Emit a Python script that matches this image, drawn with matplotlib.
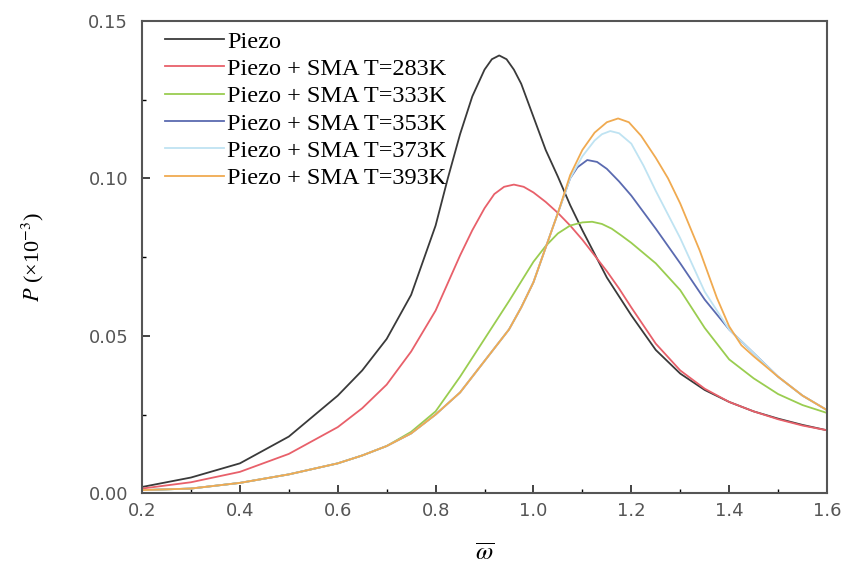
import numpy as np
import matplotlib.pyplot as plt

plt.rcParams['mathtext.fontset'] = 'stix'

# values, one omega list per curve
w_piezo = [0.2, 0.3, 0.4, 0.5, 0.6, 0.65, 0.7, 0.75, 0.8, 0.825, 0.85, 0.875, 0.9,
           0.915, 0.93, 0.945, 0.96, 0.975, 1.0, 1.025, 1.05, 1.075, 1.1, 1.125,
           1.15, 1.2, 1.25, 1.3, 1.35, 1.4, 1.45, 1.5, 1.55, 1.6]
p_piezo = [0.002, 0.005, 0.0095, 0.018, 0.031, 0.039, 0.049, 0.063, 0.085, 0.100,
           0.114, 0.126, 0.1345, 0.1378, 0.139, 0.1378, 0.1345, 0.130, 0.1195,
           0.109, 0.1005, 0.0915, 0.0835, 0.076, 0.0685, 0.0565, 0.0455, 0.038,
           0.0328, 0.029, 0.026, 0.0237, 0.0217, 0.020]

w_283 = [0.2, 0.3, 0.4, 0.5, 0.6, 0.65, 0.7, 0.75, 0.8, 0.85, 0.875, 0.9, 0.92,
         0.94, 0.96, 0.98, 1.0, 1.025, 1.05, 1.075, 1.1, 1.125, 1.15, 1.175, 1.2,
         1.25, 1.3, 1.35, 1.4, 1.45, 1.5, 1.55, 1.6]
p_283 = [0.0015, 0.0035, 0.0068, 0.0125, 0.021, 0.027, 0.0345, 0.045, 0.058,
         0.0755, 0.0835, 0.0905, 0.0950, 0.0973, 0.098, 0.0973, 0.0955, 0.0925,
         0.089, 0.085, 0.0805, 0.0755, 0.0705, 0.065, 0.059, 0.0475, 0.039,
         0.0332, 0.029, 0.026, 0.0235, 0.0215, 0.020]

w_333 = [0.2, 0.3, 0.4, 0.5, 0.6, 0.65, 0.7, 0.75, 0.8, 0.85, 0.9, 0.95, 1.0,
         1.025, 1.05, 1.075, 1.1, 1.12, 1.14, 1.16, 1.18, 1.2, 1.25, 1.3, 1.35,
         1.4, 1.45, 1.5, 1.55, 1.6]
p_333 = [0.001, 0.0015, 0.0033, 0.006, 0.0095, 0.012, 0.015, 0.0195, 0.026, 0.037,
         0.049, 0.061, 0.0735, 0.0785, 0.0825, 0.085, 0.086, 0.0862, 0.0855, 0.084,
         0.0818, 0.0795, 0.073, 0.0645, 0.0525, 0.0425, 0.0365, 0.0315, 0.028,
         0.0255]

w_353 = [0.2, 0.3, 0.4, 0.5, 0.6, 0.65, 0.7, 0.75, 0.8, 0.85, 0.9, 0.95, 0.975,
         1.0, 1.025, 1.05, 1.075, 1.09, 1.11, 1.13, 1.15, 1.175, 1.2, 1.25, 1.3,
         1.35, 1.4, 1.45, 1.5, 1.55, 1.6]
p_353 = [0.001, 0.0015, 0.0033, 0.006, 0.0095, 0.012, 0.015, 0.019, 0.025, 0.032,
         0.042, 0.052, 0.059, 0.067, 0.078, 0.089, 0.100, 0.1035, 0.1058, 0.1052,
         0.103, 0.099, 0.0945, 0.084, 0.073, 0.0615, 0.052, 0.0445, 0.037, 0.031,
         0.0264]

w_373 = [0.2, 0.3, 0.4, 0.5, 0.6, 0.65, 0.7, 0.75, 0.8, 0.85, 0.9, 0.95, 0.975,
         1.0, 1.025, 1.05, 1.075, 1.1, 1.125, 1.14, 1.157, 1.175, 1.2, 1.225,
         1.25, 1.3, 1.35, 1.4, 1.45, 1.5, 1.55, 1.6]
p_373 = [0.001, 0.0015, 0.0033, 0.006, 0.0095, 0.012, 0.015, 0.019, 0.025, 0.032,
         0.042, 0.052, 0.059, 0.067, 0.078, 0.089, 0.100, 0.107, 0.112, 0.114,
         0.115, 0.1143, 0.111, 0.104, 0.096, 0.081, 0.064, 0.052, 0.0445, 0.037,
         0.031, 0.0264]

w_393 = [0.2, 0.3, 0.4, 0.5, 0.6, 0.65, 0.7, 0.75, 0.8, 0.85, 0.9, 0.95, 0.975,
         1.0, 1.025, 1.05, 1.075, 1.1, 1.125, 1.15, 1.173, 1.195, 1.22, 1.25,
         1.275, 1.3, 1.34, 1.375, 1.4, 1.425, 1.45, 1.5, 1.55, 1.6]
p_393 = [0.001, 0.0015, 0.0033, 0.006, 0.0095, 0.012, 0.015, 0.019, 0.025, 0.032,
         0.042, 0.052, 0.059, 0.067, 0.078, 0.089, 0.101, 0.109, 0.1145, 0.1178,
         0.119, 0.1178, 0.1135, 0.1065, 0.100, 0.092, 0.077, 0.062, 0.053, 0.047,
         0.0435, 0.037, 0.031, 0.0264]

labels = ['Piezo', 'Piezo + SMA T=283K', 'Piezo + SMA T=333K',
          'Piezo + SMA T=353K', 'Piezo + SMA T=373K', 'Piezo + SMA T=393K']
colors = ['#3a3a3a', '#e8606a', '#9acd50', '#5a6ab0', '#bfe3f2', '#f0aa50']
omegas = [w_piezo, w_283, w_333, w_353, w_373, w_393]
series = [p_piezo, p_283, p_333, p_353, p_373, p_393]

fig = plt.figure(figsize=(8.47, 5.7), dpi=100)
ax = fig.add_axes([0.1677, 0.1346, 0.8087, 0.8289])

for x, y, c, lab in zip(omegas, series, colors, labels):
    ax.plot(x, y, color=c, lw=1.3, label=lab)

ax.set_xlim(0.2, 1.6)
ax.set_ylim(0, 0.15)
ax.set_xticks(np.arange(0.2, 1.61, 0.2))
ax.set_xticks(np.arange(0.3, 1.6, 0.2), minor=True)
ax.set_yticks([0, 0.05, 0.10, 0.15])
ax.set_yticks([0.025, 0.075, 0.125], minor=True)
ax.set_xticklabels(['0.2', '0.4', '0.6', '0.8', '1.0', '1.2', '1.4', '1.6'])
ax.set_yticklabels(['0.00', '0.05', '0.10', '0.15'])
ax.tick_params(direction='in', which='major', length=6, width=1.2,
               labelsize=13, colors='#222222', labelcolor='#555555')
ax.tick_params(direction='in', which='minor', length=3, width=1.0)
ax.tick_params(axis='y', which='major', pad=10)
ax.tick_params(axis='x', which='major', pad=6)
for s in ax.spines.values():
    s.set_linewidth(1.5)
    s.set_color('#555555')

ax.set_xlabel(r'$\overline{\omega}$', fontsize=18)
ax.xaxis.set_label_coords(0.5, -0.1)
ax.set_ylabel(r'$P$ (×10$^{-3}$)', fontsize=16, family='Liberation Serif')
ax.yaxis.set_label_coords(-0.14, 0.5)

ax.legend(loc='upper left', bbox_to_anchor=(0.02, 1.0), frameon=False,
          handlelength=2.4, handletextpad=0.15, labelspacing=0.22,
          borderaxespad=0.0, borderpad=0.4,
          prop={'family': 'Liberation Serif', 'size': 17.5})

plt.savefig('out.png', dpi=100)
